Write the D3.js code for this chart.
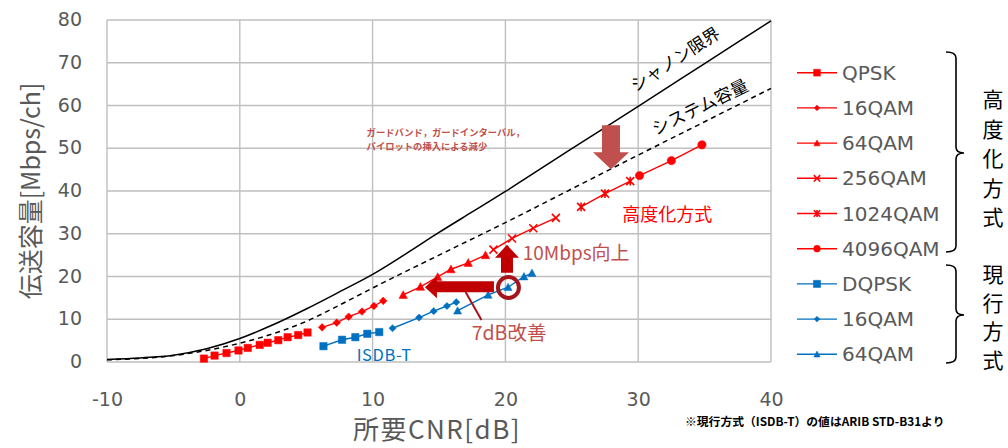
<!DOCTYPE html>
<html><head><meta charset="utf-8">
<script src="https://cdn.jsdelivr.net/npm/d3@7"></script>
<style>
html,body{margin:0;padding:0;background:#fff;}
svg{display:block;}
text{font-family:"DejaVu Sans","Noto Sans CJK JP",sans-serif;}
</style></head>
<body><svg id="c" width="1008" height="448"></svg>
<script>
// ---- data ----
const xTicks = [-10, 0, 10, 20, 30, 40];
const yTicks = [0, 10, 20, 30, 40, 50, 60, 70, 80];

const shannonX = [-10, -7.5, -5, -2.5, 0, 2.5, 5, 7.5, 10, 12.5, 15, 17.5, 20, 25, 30, 35, 40];
const shannonY = [0.6, 0.95, 1.6, 3.1, 5.5, 8.7, 12.4, 16.4, 20.5, 25.3, 30.3, 35.1, 39.9, 49.9, 59.8, 69.8, 79.8];
const systemX = [-10, -5, 0, 2.5, 5, 7.5, 10, 15, 20, 25, 30, 35, 40];
const systemY = [0.5, 1.5, 4.4, 6.6, 9.5, 13.3, 17.3, 25.0, 32.6, 40.5, 48.4, 56.2, 64.0];

const qpskX = [-2.7, -1.9, -1.0, -0.1, 0.6, 1.5, 2.1, 2.9, 3.6, 4.4, 5.1];
const qpskY = [0.8, 1.5, 2.1, 2.7, 3.3, 4.0, 4.5, 5.1, 5.8, 6.3, 6.9];
const qam16X = [6.2, 7.3, 8.2, 9.2, 10.1, 10.8];
const qam16Y = [8.1, 9.2, 10.6, 11.8, 13.1, 14.3];
const qam64X = [12.3, 13.6, 14.9, 15.9, 17.2, 18.5];
const qam64Y = [15.7, 17.6, 19.9, 21.7, 23.2, 25.0];
const qam256X = [19.1, 20.5, 22.1, 23.8];
const qam256Y = [26.3, 28.9, 31.3, 33.7];
const qam1024X = [25.7, 27.5, 29.4];
const qam1024Y = [36.3, 39.4, 42.3];
const qam4096X = [30.1, 32.5, 34.8];
const qam4096Y = [43.6, 47.1, 50.8];
const dqpskX = [6.3, 7.7, 8.7, 9.6, 10.5];
const dqpskY = [3.7, 5.2, 5.8, 6.6, 7.0];
const isdb16X = [11.5, 13.5, 14.6, 15.6, 16.3];
const isdb16Y = [7.9, 10.4, 11.9, 13.1, 14.0];
const isdb64X = [16.4, 18.7, 20.2, 21.4, 22.0];
const isdb64Y = [12.0, 15.7, 17.5, 20.0, 20.8];

const legendNames = ["QPSK", "16QAM", "64QAM", "256QAM", "1024QAM", "4096QAM", "DQPSK", "16QAM", "64QAM"];

// ---- setup ----
const RED = "#ff0000", BLUE = "#0070c0", ANN = "#c0504d", DARK = "#c00000", GRAY = "#595959";
const svg = d3.select("#c");
const x = d3.scaleLinear().domain([-10, 40]).range([107, 771]);
const y = d3.scaleLinear().domain([0, 80]).range([362, 20]);

const series = [
  {xs: qpskX, ys: qpskY, c: RED, m: "square", s: 3.7},
  {xs: qam16X, ys: qam16Y, c: RED, m: "diamond", s: 3.8},
  {xs: qam64X, ys: qam64Y, c: RED, m: "triangle", s: 4.2},
  {xs: qam256X, ys: qam256Y, c: RED, m: "x", s: 4},
  {xs: qam1024X, ys: qam1024Y, c: RED, m: "star", s: 4},
  {xs: qam4096X, ys: qam4096Y, c: RED, m: "circle", s: 4.2},
  {xs: dqpskX, ys: dqpskY, c: BLUE, m: "square", s: 3.7},
  {xs: isdb16X, ys: isdb16Y, c: BLUE, m: "diamond", s: 3.6},
  {xs: isdb64X, ys: isdb64Y, c: BLUE, m: "triangle", s: 4}
];

function marker(t, s) {
  switch (t) {
    case "square": return `M${-s},${-s}H${s}V${s}H${-s}Z`;
    case "diamond": return `M0,${-s}L${s},0L0,${s}L${-s},0Z`;
    case "triangle": return `M0,${-s}L${s},${s * 0.85}L${-s},${s * 0.85}Z`;
    case "x": return `M${-s},${-s}L${s},${s}M${-s},${s}L${s},${-s}`;
    case "star": return `M${-s},${-s}L${s},${s}M${-s},${s}L${s},${-s}M0,${-s * 1.1}V${s * 1.1}`;
    case "circle": return `M${s},0A${s},${s} 0 1,1 ${-s},0A${s},${s} 0 1,1 ${s},0Z`;
  }
}
const stroked = t => t === "x" || t === "star";

// ---- grid & axes ----
const grid = svg.append("g");
grid.selectAll("line.v").data(xTicks).join("line")
  .attr("x1", d => x(d)).attr("x2", d => x(d)).attr("y1", y(0)).attr("y2", y(80))
  .attr("stroke", "#bfbfbf").attr("stroke-width", 1.4);
grid.selectAll("line.h").data(yTicks).join("line")
  .attr("x1", x(-10)).attr("x2", x(40)).attr("y1", d => y(d)).attr("y2", d => y(d))
  .attr("stroke", "#bfbfbf").attr("stroke-width", 1.4);

const ax = svg.append("g").attr("transform", `translate(0,${y(0)})`)
  .call(d3.axisBottom(x).tickValues(xTicks).tickSize(0).tickPadding(38).tickFormat(d => String(d)));
ax.select(".domain").remove();
ax.selectAll("text").attr("fill", GRAY).style("font-size", "19px").style("font-family", "DejaVu Sans")
  .attr("dy", "0").attr("y", 44);

const ay = svg.append("g").attr("transform", `translate(${x(-10)},0)`)
  .call(d3.axisLeft(y).tickValues(yTicks).tickSize(0).tickPadding(25).tickFormat(d => String(d)));
ay.select(".domain").remove();
ay.selectAll("text").attr("fill", GRAY).style("font-size", "19px").style("font-family", "DejaVu Sans").attr("dy", "0.3em");

svg.append("text").attr("x", 437).attr("y", 439)
  .attr("text-anchor", "middle").attr("fill", GRAY).style("font-size", "26px")
  .attr("letter-spacing", "1.5")
  .style("font-family", "'Noto Sans CJK JP'").text("所要CNR[dB]");
svg.append("text").attr("transform", "translate(40,191) rotate(-90)")
  .attr("text-anchor", "middle").attr("fill", GRAY).style("font-size", "25px")
  .style("font-family", "'Noto Sans CJK JP'").text("伝送容量[Mbps/ch]");

// ---- reference curves ----
const curveLine = d3.line().x(d => x(d[0])).y(d => y(d[1])).curve(d3.curveMonotoneX);
svg.append("path").datum(d3.zip(systemX, systemY)).attr("d", curveLine)
  .attr("fill", "none").attr("stroke", "#000").attr("stroke-width", 1.5).attr("stroke-dasharray", "5,4");
svg.append("path").datum(d3.zip(shannonX, shannonY)).attr("d", curveLine)
  .attr("fill", "none").attr("stroke", "#000").attr("stroke-width", 1.5);

// ---- series ----
const segLine = d3.line().x(d => x(d[0])).y(d => y(d[1]));
series.forEach(sr => {
  const pts = d3.zip(sr.xs, sr.ys);
  const g = svg.append("g");
  g.append("path").datum(pts).attr("d", segLine).attr("fill", "none")
    .attr("stroke", sr.c).attr("stroke-width", 1.4);
  g.selectAll("path.m").data(pts).join("path").attr("class", "m")
    .attr("transform", d => `translate(${x(d[0])},${y(d[1])})`)
    .attr("d", marker(sr.m, sr.s))
    .attr("fill", stroked(sr.m) ? "none" : sr.c)
    .attr("stroke", sr.c).attr("stroke-width", stroked(sr.m) ? 1.6 : 0.5);
});

// ---- annotations ----
{
  const tx = x(27.95), ty = y(45.1);
  svg.append("path").attr("fill", ANN)
    .attr("d", `M${tx - 9},${ty - 44}H${tx + 9}V${ty - 17}H${tx + 18}L${tx},${ty}L${tx - 18},${ty - 17}H${tx - 9}Z`);
}
{
  const tx = x(20.12), ty = y(27.4);
  svg.append("path").attr("fill", DARK)
    .attr("d", `M${tx},${ty}L${tx + 12},${ty + 13}H${tx + 6}V${ty + 28}H${tx - 6}V${ty + 13}H${tx - 12}Z`);
}
{
  const tx = x(13.94), ty = y(17.5);
  svg.append("path").attr("fill", DARK)
    .attr("d", `M${tx},${ty}L${tx + 12},${ty - 11}V${ty - 6}H${tx + 69}V${ty + 5}H${tx + 12}V${ty + 11}Z`);
}
svg.append("circle").attr("cx", x(20.23)).attr("cy", y(17.43)).attr("r", 10.5)
  .attr("fill", "none").attr("stroke", "#a5141b").attr("stroke-width", 4);
svg.append("line").attr("x1", x(17.0)).attr("y1", y(16.4)).attr("x2", x(18.2)).attr("y2", y(9.8))
  .attr("stroke", "#a5141b").attr("stroke-width", 2);

const jp = (t, px, py, size, color, anchor = "start", extra = {}) => {
  const e = svg.append("text").attr("x", px).attr("y", py).attr("text-anchor", anchor)
    .attr("fill", color).style("font-size", size + "px").style("font-family", "'Noto Sans CJK JP'").text(t);
  Object.entries(extra).forEach(([k, v]) => e.attr(k, v));
  return e;
};
jp("シャノン限界", x(32.8), y(70.8) + 6, 17, "#000", "middle", {transform: `rotate(-33 ${x(32.8)} ${y(70.8)})`});
jp("システム容量", x(34.66), y(59.6) + 6, 17.5, "#000", "middle", {transform: `rotate(-26 ${x(34.66)} ${y(59.6)})`});
jp("ガードバンド，ガードインターバル，", x(9.55), y(53.7) + 3.5, 9.3, ANN, "start", {"font-weight": "bold"});
jp("パイロットの挿入による減少", x(9.55), y(50.5) + 3.5, 9.3, ANN, "start", {"font-weight": "bold"});
jp("高度化方式", x(28.8), y(34.4) + 6.5, 18, RED);
jp("10Mbps向上", x(21.3), y(25.5) + 7, 19, ANN);
jp("7dB改善", x(17.46), y(6.8) + 7, 19.5, ANN);
jp("ISDB-T", x(8.8), y(1.6) + 6, 16.5, BLUE, "start", {"letter-spacing": "0.6"});
jp("※現行方式（ISDB-T）の値はARIB STD-B31より", 685, 426, 11.8, "#000", "start", {"font-weight": "bold"});

// ---- legend ----
const lg = svg.append("g");
const legMarkers = ["square", "diamond", "triangle", "x", "star", "circle", "square", "diamond", "triangle"];
const legSizes = [3.4, 2.8, 3.2, 3.2, 3.2, 3.4, 3.6, 2.8, 3.2];
legendNames.forEach((n, i) => {
  const cy = 72.7 + i * 35.2;
  const c = i < 6 ? RED : BLUE;
  lg.append("line").attr("x1", 797).attr("x2", 837).attr("y1", cy).attr("y2", cy)
    .attr("stroke", c).attr("stroke-width", 1.4);
  lg.append("path").attr("transform", `translate(817,${cy})`).attr("d", marker(legMarkers[i], legSizes[i]))
    .attr("fill", stroked(legMarkers[i]) ? "none" : c).attr("stroke", c)
    .attr("stroke-width", stroked(legMarkers[i]) ? 1.6 : 0.5);
  lg.append("text").attr("x", 842).attr("y", cy + 7).attr("fill", GRAY)
    .style("font-size", "20px").style("font-family", "DejaVu Sans").text(n);
});

const brace = (top, mid, bot) =>
  `M946,${top}Q956,${top} 956,${top + 6}V${mid - 6}Q956,${mid} 964,${mid}Q956,${mid} 956,${mid + 6}V${bot - 6}Q956,${bot} 946,${bot}`;
lg.append("path").attr("d", brace(52, 153, 252)).attr("fill", "none").attr("stroke", "#000").attr("stroke-width", 1.6);
lg.append("path").attr("d", brace(265, 315, 363)).attr("fill", "none").attr("stroke", "#000").attr("stroke-width", 1.6);

const vtext = (chars, y0, step) => {
  const t = svg.append("text").attr("text-anchor", "middle").attr("fill", "#000")
    .style("font-size", "21px").style("font-family", "'Noto Sans CJK JP'");
  chars.split("").forEach((ch, i) =>
    t.append("tspan").attr("x", 993).attr("y", y0 + i * step + 8).text(ch));
};
vtext("高度化方式", 99, 29.5);
vtext("現行方式", 274, 28.5);
</script></body></html>
